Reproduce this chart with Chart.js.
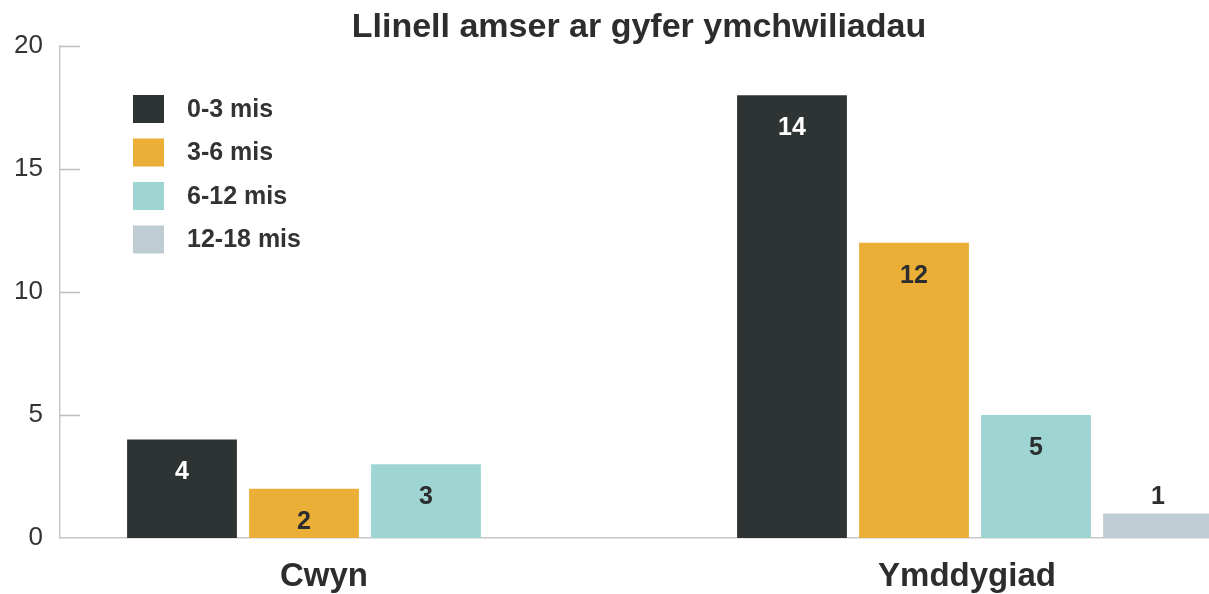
<!DOCTYPE html>
<html>
<head>
<meta charset="utf-8">
<script src="https://cdn.jsdelivr.net/npm/chart.js@4.4.1/dist/chart.umd.min.js"></script>
<style>
  html, body { margin: 0; padding: 0; background: #fff; overflow: hidden; }
  #wrap { width: 1280px; height: 594px; position: relative; }
</style>
</head>
<body>
<div id="wrap"><canvas id="timeline"></canvas></div>
<script>
const chartTitle = 'Llinell amser ar gyfer ymchwiliadau';
const categories = ['Cwyn', 'Ymddygiad'];
const seriesNames = ['0-3 mis', '3-6 mis', '6-12 mis', '12-18 mis'];
const seriesColors = ['#2e3434', '#ebae36', '#9ed5d2', '#c0ccd4'];
// bar heights as drawn
const months0to3 = [4, 18];
const months3to6 = [2, 12];
const months6to12 = [3, 5];
const months12to18 = [null, 1];
// numbers printed on the bars
const labels0to3 = ['4', '14'];
const labels3to6 = ['2', '12'];
const labels6to12 = ['3', '5'];
const labels12to18 = ['', '1'];
const yTicks = [0, 5, 10, 15, 20];

const allValues = [months0to3, months3to6, months6to12, months12to18];
const allLabels = [labels0to3, labels3to6, labels6to12, labels12to18];
const FONT = '"Liberation Sans", Arial, Helvetica, sans-serif';
const catNudge = [-41, -8]; // category names sit left of the group centre

const decorations = {
  id: 'decorations',
  afterDraw(chart) {
    const ctx = chart.ctx;
    const area = chart.chartArea;
    const x = chart.scales.x;
    const y = chart.scales.y;
    ctx.save();
    // title
    ctx.fillStyle = '#2b2d2e';
    ctx.font = 'bold 34px ' + FONT;
    ctx.textAlign = 'center';
    ctx.textBaseline = 'middle';
    ctx.fillText(chartTitle, 639, 28);

    // category names
    ctx.font = 'bold 33px ' + FONT;
    categories.forEach((c, i) => {
      ctx.fillText(c, x.getPixelForValue(i) + catNudge[i], 577);
    });

    // short tick marks inside the axis
    ctx.strokeStyle = '#bdbdbd';
    ctx.lineWidth = 1.5;
    yTicks.forEach(t => {
      if (t === 0) return;
      const py = Math.round(y.getPixelForValue(t)) + 0.5;
      ctx.beginPath();
      ctx.moveTo(area.left, py);
      ctx.lineTo(area.left + 20, py);
      ctx.stroke();
    });

    // legend in the top-left corner
    ctx.font = 'bold 25px ' + FONT;
    ctx.textAlign = 'left';
    seriesNames.forEach((name, i) => {
      const top = 95 + i * 43.5;
      ctx.fillStyle = seriesColors[i];
      ctx.fillRect(133, top, 31, 28);
      ctx.fillStyle = '#333';
      ctx.fillText(name, 187, top + 15);
    });

    // value labels
    ctx.font = 'bold 25px ' + FONT;
    ctx.textAlign = 'center';
    chart.data.datasets.forEach((ds, di) => {
      const meta = chart.getDatasetMeta(di);
      meta.data.forEach((bar, i) => {
        const txt = allLabels[di][i];
        if (!txt) return;
        const h = bar.base - bar.y;
        if (h > 40) {
          ctx.fillStyle = di === 0 ? '#ffffff' : '#2b2d2e';
          ctx.fillText(txt, bar.x, bar.y + 33);
        } else {
          ctx.fillStyle = '#2b2d2e';
          ctx.fillText(txt, bar.x, bar.y - 16);
        }
      });
    });
    ctx.restore();
  }
};

new Chart(document.getElementById('timeline'), {
  type: 'bar',
  data: {
    labels: categories,
    datasets: seriesNames.map((name, i) => ({
      label: name,
      data: allValues[i],
      backgroundColor: seriesColors[i],
      categoryPercentage: 0.8,
      barPercentage: 0.9
    }))
  },
  options: {
    responsive: true,
    maintainAspectRatio: false,
    animation: false,
    layout: { padding: { top: 46, right: 0, left: 0, bottom: 0 } },
    plugins: {
      legend: { display: false },
      title: { display: false },
      tooltip: { enabled: false }
    },
    scales: {
      x: {
        grid: { display: false, drawTicks: false },
        border: { color: '#c8c8c8', width: 1.5 },
        ticks: { display: false },
        afterFit(scale) { scale.height = 56; }
      },
      y: {
        min: 0,
        max: 20,
        afterBuildTicks(scale) { scale.ticks = yTicks.map(v => ({ value: v })); },
        grid: { display: false, drawTicks: false },
        border: { color: '#c8c8c8', width: 1.5 },
        ticks: {
          padding: 17,
          color: '#333',
          font: { family: FONT, size: 26 }
        },
        afterFit(scale) { scale.width = 60; }
      }
    }
  },
  plugins: [decorations]
});
</script>
</body>
</html>
